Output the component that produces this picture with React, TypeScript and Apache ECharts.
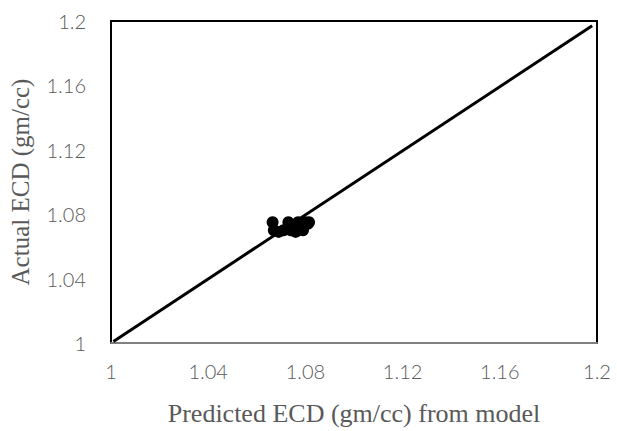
import React, { useEffect, useRef } from "react";
import * as echarts from "echarts";

const xTicks = [1, 1.04, 1.08, 1.12, 1.16, 1.2];
const scatterX = [1.0665, 1.067, 1.069, 1.071, 1.073, 1.074, 1.076, 1.077, 1.078, 1.079, 1.080, 1.081, 1.0815];
const scatterY = [1.075, 1.070, 1.069, 1.070, 1.075, 1.070, 1.069, 1.075, 1.072, 1.070, 1.075, 1.074, 1.075];
const lineX = [1.001, 1.198];
const lineY = [1.001, 1.197];

export default function App() {
  const ref = useRef<HTMLDivElement>(null);
  useEffect(() => {
    if (!ref.current) return;
    const chart = echarts.init(ref.current, undefined, { renderer: "svg" });
    const serif = "Liberation Serif";
    const sans = "Lato";
    const fmt = (v: number) => {
      const t = xTicks.find((k) => Math.abs(k - v) < 1e-6);
      return t === undefined ? "" : String(t);
    };
    chart.setOption({
      animation: false,
      backgroundColor: "#ffffff",
      grid: {
        left: 110,
        right: 20,
        top: 21,
        bottom: 83,
        show: true,
        borderColor: "#000000",
        borderWidth: 2,
      },
      xAxis: {
        type: "value",
        min: 1,
        max: 1.2,
        interval: 0.04,
        name: "Predicted ECD (gm/cc) from model",
        nameLocation: "middle",
        nameGap: 57,
        nameTextStyle: { fontFamily: serif, fontSize: 26, color: "#595959" },
        axisLine: { show: true, lineStyle: { color: "#7f7f7f", width: 2 } },
        axisTick: { show: false },
        splitLine: { show: false },
        axisLabel: {
          fontFamily: sans,
          fontSize: 20,
          fontWeight: 300,
          color: "#595959",
          margin: 18,
          formatter: fmt,
        },
      },
      yAxis: {
        type: "value",
        min: 1,
        max: 1.2,
        interval: 0.04,
        name: "Actual ECD (gm/cc)",
        nameLocation: "middle",
        nameGap: 78,
        nameTextStyle: { fontFamily: serif, fontSize: 25, color: "#595959" },
        axisLine: { show: false },
        axisTick: { show: false },
        splitLine: { show: false },
        axisLabel: {
          fontFamily: sans,
          fontSize: 20,
          fontWeight: 300,
          color: "#595959",
          margin: 25,
          formatter: fmt,
        },
      },
      series: [
        {
          type: "line",
          data: lineX.map((x, i) => [x, lineY[i]]),
          symbol: "none",
          lineStyle: { color: "#000000", width: 3 },
          z: 2,
        },
        {
          type: "scatter",
          data: scatterX.map((x, i) => [x, scatterY[i]]),
          symbol: "circle",
          symbolSize: 12,
          itemStyle: { color: "#000000", opacity: 1 },
          z: 3,
        },
      ],
    });
    return () => chart.dispose();
  }, []);
  return (
    <div
      ref={ref}
      style={{ position: "absolute", left: 0, top: 0, width: 617, height: 431 }}
    />
  );
}
